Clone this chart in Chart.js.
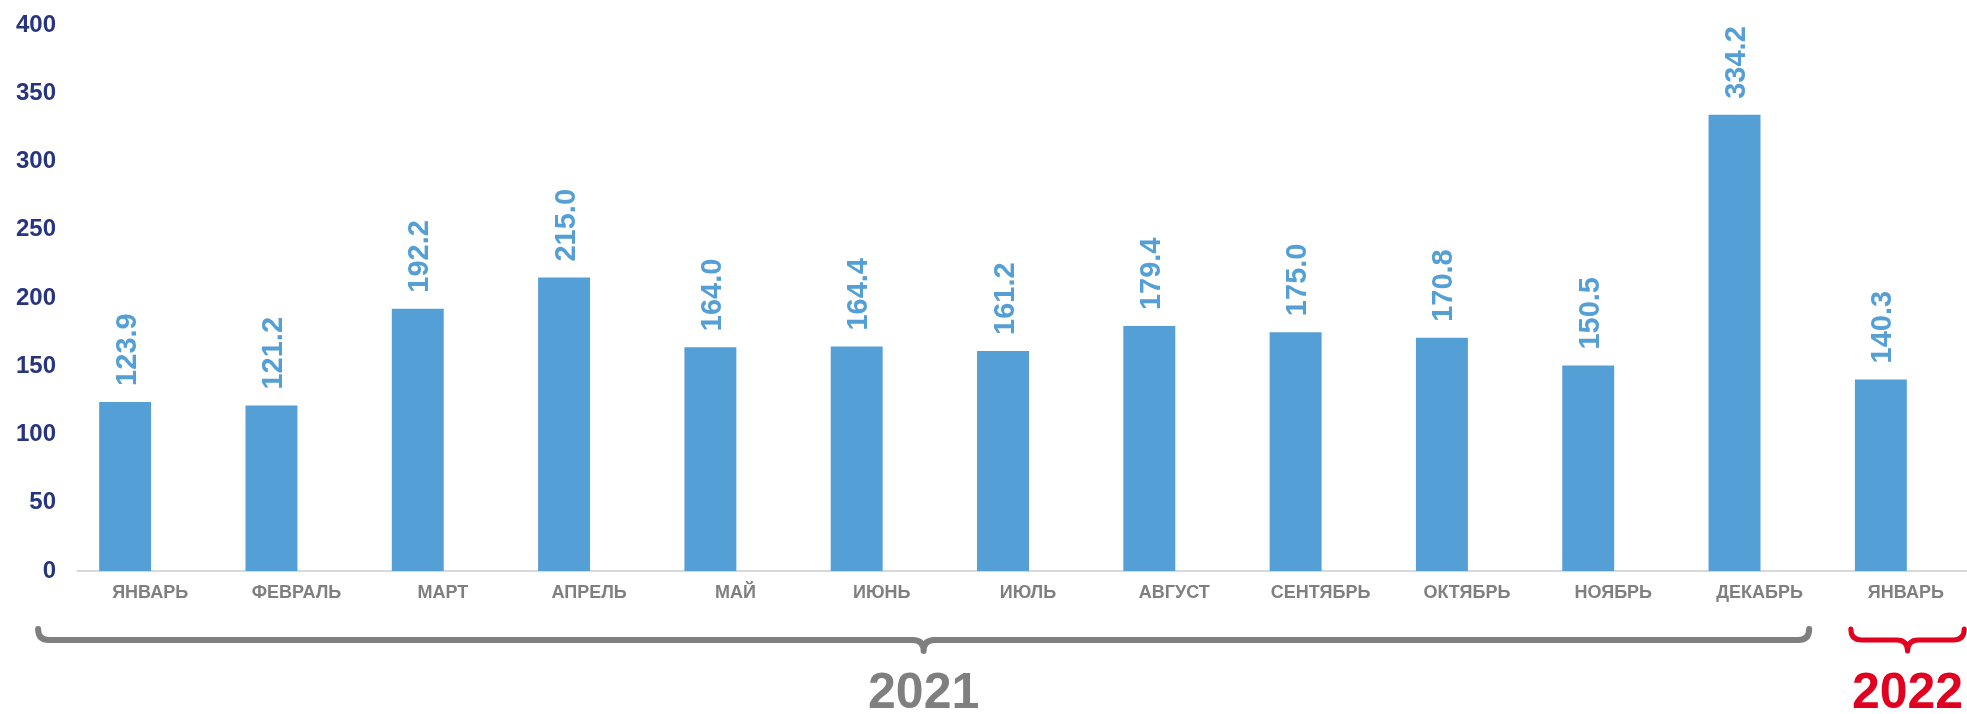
<!DOCTYPE html>
<html>
<head>
<meta charset="utf-8">
<script src="https://cdn.jsdelivr.net/npm/chart.js@4/dist/chart.umd.min.js"></script>
<style>
  body { margin: 0; background: #fff; }
  #wrap { width: 1967px; height: 714px; position: relative; }
</style>
</head>
<body>
<div id="wrap"><canvas id="salesChart"></canvas></div>
<script>
const months = ["ЯНВАРЬ", "ФЕВРАЛЬ", "МАРТ", "АПРЕЛЬ", "МАЙ", "ИЮНЬ", "ИЮЛЬ",
  "АВГУСТ", "СЕНТЯБРЬ", "ОКТЯБРЬ", "НОЯБРЬ", "ДЕКАБРЬ", "ЯНВАРЬ"];
const values = [123.9, 121.2, 192.2, 215.0, 164.0, 164.4, 161.2, 179.4, 175.0, 170.8, 150.5, 334.2, 140.3];
const yTicks = [0, 50, 100, 150, 200, 250, 300, 350, 400];
const yearLabels = ["2021", "2022"];
const yearFirst = [0, 12];
const yearLast = [11, 12];

const FONT = "'Liberation Sans', Arial, sans-serif";
const BAR_COLOR = "#539FD6";
const GRAY = "#7F7F7F";
const RED = "#E1001F";
const AXIS_SHIFT = 25; // month labels and axis line sit a bit right of the bars

// brace look per year group (offsets in fractions of a category)
const braceStyle = [
  { color: GRAY, width: 6, left: 0.595, right: 0.51 },
  { color: RED, width: 5, left: 0.205, right: 0.57 }
];

function drawBrace(ctx, x1, x2, xm, y, r, color, width) {
  ctx.save();
  ctx.strokeStyle = color;
  ctx.lineWidth = width;
  ctx.lineCap = "round";
  ctx.beginPath();
  ctx.moveTo(x1, y - r);
  ctx.quadraticCurveTo(x1, y, x1 + r, y);
  ctx.lineTo(xm - r, y);
  ctx.quadraticCurveTo(xm, y, xm, y + r);
  ctx.moveTo(xm, y + r);
  ctx.quadraticCurveTo(xm, y, xm + r, y);
  ctx.lineTo(x2 - r, y);
  ctx.quadraticCurveTo(x2, y, x2, y - r);
  ctx.stroke();
  ctx.restore();
}

const extrasPlugin = {
  id: "extras",
  beforeDatasetsDraw(chart) {
    const ctx = chart.ctx;
    const xs = chart.scales.x;
    const ys = chart.scales.y;

    // y tick labels
    ctx.save();
    ctx.fillStyle = "#27347F";
    ctx.font = "bold 24px " + FONT;
    ctx.textAlign = "right";
    ctx.textBaseline = "middle";
    yTicks.forEach(v => ctx.fillText(String(v), 56, ys.getPixelForValue(v)));
    ctx.restore();

    // category axis line
    ctx.save();
    ctx.strokeStyle = "#D9D9D9";
    ctx.lineWidth = 2;
    ctx.beginPath();
    ctx.moveTo(xs.left + AXIS_SHIFT, ys.bottom);
    ctx.lineTo(xs.right + AXIS_SHIFT, ys.bottom);
    ctx.stroke();
    ctx.restore();
  },
  afterDatasetsDraw(chart) {
    const ctx = chart.ctx;
    const meta = chart.getDatasetMeta(0);

    // rotated value labels above bars
    ctx.save();
    ctx.fillStyle = BAR_COLOR;
    ctx.font = "bold 29px " + FONT;
    ctx.textAlign = "left";
    ctx.textBaseline = "alphabetic";
    meta.data.forEach((bar, i) => {
      ctx.save();
      ctx.translate(bar.x, bar.y - 16);
      ctx.rotate(-Math.PI / 2);
      ctx.fillText(values[i].toFixed(1), 0, 10.5);
      ctx.restore();
    });
    ctx.restore();

    // year braces and labels
    const xs = chart.scales.x;
    const w = xs.getPixelForValue(1) - xs.getPixelForValue(0);
    yearLabels.forEach((label, k) => {
      const st = braceStyle[k];
      const x1 = xs.getPixelForValue(yearFirst[k]) - st.left * w;
      const x2 = xs.getPixelForValue(yearLast[k]) + st.right * w;
      const xm = (x1 + x2) / 2;
      drawBrace(ctx, x1, x2, xm, 640, 11, st.color, st.width);
      ctx.save();
      ctx.fillStyle = st.color;
      ctx.font = "bold 50px " + FONT;
      ctx.textAlign = "center";
      ctx.textBaseline = "middle";
      ctx.fillText(label, xm, 694);
      ctx.restore();
    });
  }
};

const ctx = document.getElementById("salesChart").getContext("2d");
new Chart(ctx, {
  type: "bar",
  data: {
    labels: months,
    datasets: [{
      data: values,
      backgroundColor: BAR_COLOR,
      barPercentage: 0.355,
      categoryPercentage: 1
    }]
  },
  options: {
    responsive: true,
    maintainAspectRatio: false,
    animation: false,
    layout: { padding: { top: 25, right: 13, bottom: 0, left: 0 } },
    plugins: {
      legend: { display: false },
      tooltip: { enabled: false }
    },
    scales: {
      x: {
        grid: { display: false, drawTicks: false },
        border: { display: false },
        ticks: {
          color: GRAY,
          font: { family: FONT, size: 18, weight: "bold" },
          padding: 11,
          labelOffset: AXIS_SHIFT,
          maxRotation: 0,
          autoSkip: false
        },
        afterFit(scale) { scale.height = 143; }
      },
      y: {
        min: 0,
        max: 400,
        grid: { display: false, drawTicks: false },
        border: { display: false },
        afterBuildTicks(scale) { scale.ticks = yTicks.map(v => ({ value: v })); },
        ticks: { display: false },
        afterFit(scale) { scale.width = 52; }
      }
    }
  },
  plugins: [extrasPlugin]
});
</script>
</body>
</html>
